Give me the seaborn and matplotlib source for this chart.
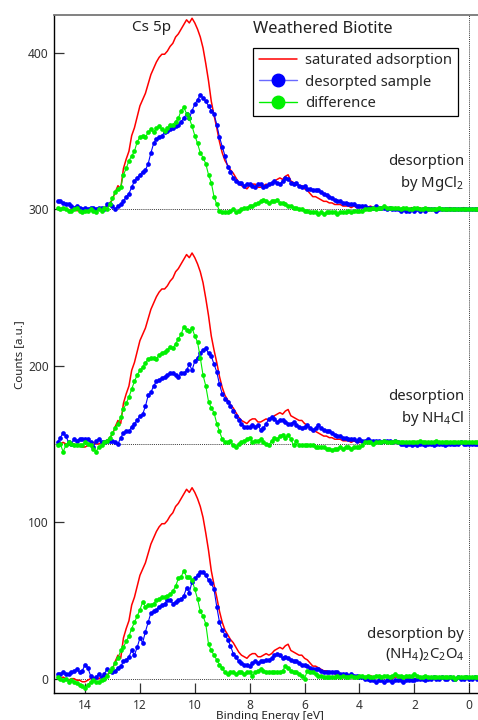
import numpy as np
import matplotlib
matplotlib.use("Agg")
import matplotlib.pyplot as plt
from matplotlib.lines import Line2D
import seaborn as sns

# binding energy grid, 15.0 eV down to -0.3 eV in 0.1 eV steps
energy = np.round(np.linspace(15.0, -0.3, 154), 1)

# saturated adsorption (same spectrum in every panel)
saturated = [
    1, 0, 1, 0, -1, 0, 0, -1, -1, -2,
    -2, -1, 0, 1, 0, 0, 1, 1, 2, 4,
    6, 11, 15, 13, 26, 32, 37, 47, 52, 59,
    66, 70, 74, 80, 86, 90, 94, 97, 99, 99,
    101, 104, 106, 110, 112, 115, 118, 121, 119, 122,
    119, 115, 110, 103, 93, 82, 69, 60, 52, 43,
    36, 31, 28, 25, 23, 20, 17, 15, 14, 13,
    15, 16, 16, 14, 14, 15, 16, 15, 16, 18,
    19, 20, 19, 21, 22, 18, 17, 16, 15, 15,
    13, 12, 10, 8, 8, 7, 6, 5, 5, 4,
    4, 3, 3, 3, 2, 2, 2, 1, 2, 1,
    1, 1, 1, 1, 2, 1, 1, 1, 0, 1,
    1, 1, 0, 1, 1, 0, 1, 0, 0, 1,
    0, 0, 1, 0, 0, 1, 0, 0, 0, 1,
    0, 0, 0, 1, 0, 0, 0, 0, 1, 0,
    0, 0, 0, 0,
]

# desorption by MgCl2 (offset 300)
desorbed_mgcl2 = [
    5, 5, 4, 3, 3, 2, 1, 2, 1, 0,
    1, 0, 1, 1, 0, 1, 1, 0, 3, 3,
    2, 0, 2, 3, 5, 8, 10, 14, 18, 20,
    22, 24, 25, 29, 36, 42, 45, 46, 47, 49,
    50, 51, 52, 53, 54, 56, 58, 61, 58, 63,
    67, 70, 73, 71, 69, 66, 63, 61, 54, 46,
    40, 34, 27, 24, 20, 18, 17, 17, 15, 16,
    16, 15, 14, 16, 16, 14, 15, 16, 17, 18,
    17, 16, 18, 20, 19, 17, 16, 17, 15, 14,
    15, 13, 13, 12, 12, 12, 11, 10, 9, 8,
    7, 6, 5, 5, 4, 4, 3, 3, 3, 2,
    2, 2, 2, 1, 1, 1, 2, 1, 1, 1,
    0, 1, 0, 0, 0, -1, 0, -1, -1, 0,
    -1, 0, -1, 0, -1, 0, 0, 0, -1, 0,
    0, 0, 0, 0, 0, 0, 0, 0, 0, 0,
    0, 0, 0, 0,
]
difference_mgcl2 = [
    1, 0, 1, 0, -1, -1, 0, 1, -1, -2,
    -1, -1, 0, -1, -2, 0, -1, 1, 0, 3,
    7, 11, 13, 14, 22, 26, 31, 34, 37, 43,
    46, 47, 46, 49, 51, 49, 52, 53, 51, 50,
    52, 54, 54, 56, 58, 63, 65, 61, 58, 53,
    47, 42, 36, 33, 29, 22, 17, 8, 3, -1,
    -2, -2, -2, -1, 0, -2, -1, 0, 1, 1,
    2, 2, 3, 4, 5, 6, 5, 4, 5, 5,
    6, 4, 4, 3, 2, 2, 1, 1, 0, 0,
    -1, -1, -2, -2, -2, -3, -2, -3, -2, -2,
    -2, -2, -3, -2, -2, -2, -1, -2, -1, -1,
    -1, -1, 0, 0, 0, 1, 0, 1, 1, 2,
    1, 1, 1, 1, 1, 0, 1, 1, 0, 0,
    1, 1, 0, 0, 1, 0, 0, 0, 0, 1,
    0, 0, 0, 0, 0, 0, 0, 0, 0, 0,
    0, 0, 0, 0,
]

# desorption by NH4Cl (offset 150)
desorbed_nh4cl = [
    1, 4, 7, 5, 1, 0, 3, 2, 3, 3,
    3, 3, 1, -2, 2, 3, 1, 1, 2, 2,
    2, 1, 0, 4, 7, 8, 8, 11, 13, 15,
    18, 19, 24, 31, 33, 37, 40, 41, 42, 43,
    44, 45, 45, 44, 43, 45, 45, 47, 51, 47,
    53, 55, 58, 60, 61, 58, 56, 51, 46, 38,
    32, 29, 27, 24, 21, 18, 15, 13, 11, 11,
    11, 12, 11, 12, 9, 10, 13, 16, 17, 16,
    14, 15, 15, 14, 13, 13, 14, 12, 11, 10,
    11, 12, 10, 9, 10, 12, 10, 9, 8, 8,
    7, 6, 5, 5, 4, 4, 3, 3, 3, 2,
    3, 2, 2, 3, 2, 2, 2, 2, 1, 2,
    2, 2, 1, 2, 1, 0, 0, -1, 0, -1,
    0, -1, 0, 0, -1, 0, 0, -1, 0, 0,
    0, -1, 0, 0, 0, 0, 0, 1, 0, 0,
    0, 0, 0, 0,
]
difference_nh4cl = [
    -1, 0, -5, -1, 1, 0, -1, -1, -1, -1,
    1, 0, -1, -3, -5, -2, -1, 1, 2, 4,
    7, 10, 13, 17, 22, 26, 30, 35, 40, 44,
    47, 49, 52, 54, 55, 55, 54, 57, 58, 59,
    60, 62, 61, 64, 67, 70, 75, 73, 72, 74,
    69, 65, 55, 44, 37, 27, 23, 20, 13, 8,
    3, 1, 1, 2, -1, -2, 0, 1, 2, 3,
    4, 1, 2, 2, 3, 1, 0, -1, 2, 4,
    3, 5, 6, 4, 6, 3, -1, 2, -1, -1,
    -1, -1, -1, -1, -2, -2, -2, -2, -3, -3,
    -4, -3, -3, -2, -3, -2, -2, -3, -2, -2,
    -2, -1, 1, 1, 1, 0, 1, 1, 1, 2,
    1, 1, 1, 2, 1, 1, 1, 1, 1, 1,
    1, 1, 2, 1, 1, 1, 1, 1, 2, 1,
    1, 1, 1, 1, 1, 1, 1, 1, 1, 1,
    1, 1, 1, 1,
]

# desorption by (NH4)2C2O4 (offset 0)
desorbed_oxalate = [
    3, 3, 4, 3, 3, 4, 5, 6, 4, 5,
    9, 7, 2, 0, 1, 3, 1, 3, 6, 5,
    4, 5, 7, 8, 11, 12, 14, 18, 15, 20,
    26, 23, 30, 36, 42, 43, 44, 46, 47, 48,
    50, 50, 48, 49, 50, 51, 53, 58, 55, 62,
    64, 66, 68, 68, 66, 63, 61, 57, 46, 36,
    31, 28, 25, 21, 16, 14, 11, 10, 9, 9,
    8, 10, 11, 10, 11, 11, 12, 12, 13, 15,
    16, 15, 13, 14, 13, 12, 11, 11, 10, 9,
    9, 8, 7, 6, 6, 6, 5, 4, 4, 4,
    4, 4, 4, 3, 3, 3, 2, 3, 2, 2,
    1, 1, 0, 0, -1, -1, -2, -1, -1, -2,
    -1, -1, -2, -1, -1, -1, -2, -1, -1, -1,
    -1, 0, 0, 0, -1, 0, 0, 1, 0, 0,
    1, 0, 0, 1, 0, 0, 1, 0, 0, 1,
    0, 0, 1, 0,
]
difference_oxalate = [
    1, 0, -1, 0, -2, -1, -2, -3, -4, -5,
    -6, -4, -2, -1, -2, -2, -1, 0, 2, 5,
    7, 10, 13, 18, 20, 24, 27, 32, 36, 40,
    44, 49, 46, 47, 47, 48, 50, 51, 52, 52,
    53, 54, 56, 59, 64, 65, 69, 65, 65, 63,
    57, 51, 43, 40, 35, 22, 18, 15, 12, 9,
    7, 4, 3, 4, 4, 3, 4, 4, 3, 4,
    4, 2, 4, 5, 6, 5, 4, 4, 4, 4,
    4, 4, 5, 8, 7, 5, 4, 4, 3, 2,
    0, 5, 4, 4, 3, 2, 2, 1, 1, 1,
    1, 1, 2, 1, 2, 1, 1, 2, 1, 1,
    2, 2, 1, 2, 1, 1, 2, 2, 1, 2,
    2, 1, 2, 3, 2, 2, 1, 2, 2, 2,
    3, 2, 1, 1, 2, 1, 1, 1, 1, 1,
    1, 1, 1, 1, 1, 0, 1, 1, 1, 1,
    1, 1, 1, 1,
]

offsets = [300, 150, 0]
desorbed = [desorbed_mgcl2, desorbed_nh4cl, desorbed_oxalate]
difference = [difference_mgcl2, difference_nh4cl, difference_oxalate]
panel_labels = [
    "desorption\nby MgCl$\\mathregular{_2}$",
    "desorption\nby NH$\\mathregular{_4}$Cl",
    "desorption by\n(NH$\\mathregular{_4}$)$\\mathregular{_2}$C$\\mathregular{_2}$O$\\mathregular{_4}$",
]
label_y = [335, 185, 33]

sns.set_style("ticks")
plt.rcParams["font.family"] = ["Noto Sans", "DejaVu Sans"]
plt.rcParams["mathtext.fontset"] = "custom"
plt.rcParams["mathtext.rm"] = "Noto Sans"

RED, BLUE, GREEN = "#ff0000", "#0000ff", "#00f000"

fig = plt.figure(figsize=(4.78, 7.2), dpi=100)
ax = fig.add_axes([0.1136, 0.037, 0.8864, 0.942])

for off in offsets:
    ax.axhline(off, color="black", ls=(0, (1, 1.3)), lw=0.6, zorder=1)
ax.axvline(0, color="black", ls=(0, (1, 1.3)), lw=0.6, zorder=1)

for off, des, dif in zip(offsets, desorbed, difference):
    sns.lineplot(x=energy, y=np.array(saturated) + off, ax=ax, color=RED,
                 lw=1.1, sort=False, estimator=None, zorder=2)
    sns.lineplot(x=energy, y=np.array(des) + off, ax=ax, color=BLUE,
                 lw=0.8, marker="o", markersize=3.4, markeredgewidth=0,
                 sort=False, estimator=None, zorder=3)
    sns.lineplot(x=energy, y=np.array(dif) + off, ax=ax, color=GREEN,
                 lw=0.8, marker="o", markersize=3.4, markeredgewidth=0,
                 sort=False, estimator=None, zorder=4)

for txt, yy in zip(panel_labels, label_y):
    ax.text(0.18, yy, txt, ha="right", va="top", fontsize=10.7,
            linespacing=1.35, multialignment="right", color="#222222")

ax.text(11.57, 421, "Cs 5p", ha="center", va="top", fontsize=11, color="#222222")
ax.text(7.87, 420, "Weathered Biotite", ha="left", va="top", fontsize=11.8,
        color="#222222")

handles = [
    Line2D([], [], color=RED, lw=1.1),
    Line2D([], [], color="#6a6aff", lw=1, marker="o", markersize=9,
           markerfacecolor=BLUE, markeredgecolor=BLUE),
    Line2D([], [], color=GREEN, lw=1, marker="o", markersize=9,
           markerfacecolor=GREEN, markeredgecolor=GREEN),
]
leg = ax.legend(handles, ["saturated adsorption", "desorpted sample", "difference"],
                loc="upper left", bbox_to_anchor=(0.469, 0.952), borderaxespad=0,
                fontsize=10.7, frameon=True, fancybox=False, handlelength=2.6,
                handletextpad=0.55, borderpad=0.38, labelspacing=0.42)
leg.get_frame().set_edgecolor("black")
leg.get_frame().set_linewidth(0.9)
leg.get_frame().set_alpha(1)

ax.set_xlim(15.12, -0.32)
ax.set_ylim(-9.4, 424)
ax.set_xticks([14, 12, 10, 8, 6, 4, 2, 0])
ax.set_yticks([0, 100, 200, 300, 400])
ax.tick_params(direction="in", length=7, width=0.9, color="#333333",
               labelcolor="#333333", labelsize=8.6)
ax.tick_params(axis="x", pad=4.2)
ax.tick_params(axis="y", pad=4)

ax.spines["right"].set_visible(False)
ax.spines["top"].set_color("#777777")
ax.spines["top"].set_linewidth(1.3)
ax.spines["left"].set_color("black")
ax.spines["bottom"].set_color("black")
ax.spines["left"].set_linewidth(1)
ax.spines["bottom"].set_linewidth(1)

ax.set_xlabel("Binding Energy [eV]", fontsize=8.4, color="#222222")
ax.set_ylabel("Counts [a.u.]", fontsize=8.3, color="#222222")
ax.xaxis.set_label_coords(0.509, -0.0265)
ax.yaxis.set_label_coords(-0.069, 0.5)

fig.savefig("out.png", dpi=100)
